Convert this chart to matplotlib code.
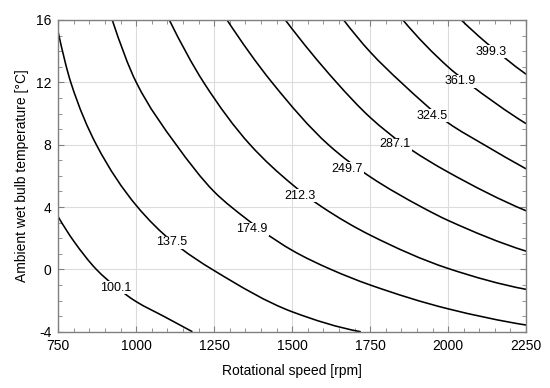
import matplotlib

matplotlib.use("Agg")
import matplotlib.pyplot as plt
from matplotlib.patches import PathPatch
from matplotlib.path import Path
from matplotlib.ticker import MultipleLocator
from matplotlib.transforms import IdentityTransform

plt.rcParams["font.family"] = ["Liberation Sans", "DejaVu Sans"]
plt.rcParams["axes.unicode_minus"] = False

# contour levels and points on each iso-line
# (mostly where the lines cross grid lines and the frame)
LEVELS = ["100.1", "137.5", "174.9", "212.3", "249.7", "287.1", "324.5", "361.9", "399.3"]

SPEED_100 = [750, 800, 872, 933, 1000, 1090, 1180]
TEMP_100 = [3.36, 1.8, 0.0, -1.1, -2.07, -3.03, -4.0]

SPEED_137 = [750, 790, 872, 1000, 1118, 1250, 1500, 1720]
TEMP_137 = [15.18, 12.0, 8.0, 4.1, 1.74, -0.08, -2.72, -4.0]

SPEED_174 = [923, 1000, 1128, 1249, 1305, 1500, 1624, 1750, 2000, 2250]
TEMP_174 = [16, 12.0, 8.0, 5.0, 4.0, 1.22, 0.0, -1.0, -2.53, -3.57]

SPEED_212 = [1106, 1216, 1365, 1500, 1596, 1750, 2000, 2250]
TEMP_212 = [16, 12.0, 8.0, 5.45, 4.0, 2.2, 0.06, -1.28]

SPEED_249 = [1291, 1435, 1616, 1750, 1915, 2000, 2250]
TEMP_249 = [16, 12.0, 8.0, 5.94, 4.0, 3.14, 1.17]

SPEED_287 = [1478, 1642, 1750, 1858, 2000, 2250]
TEMP_287 = [16, 12.0, 9.75, 8.0, 6.24, 3.76]

SPEED_324 = [1665, 1750, 1849, 2000, 2115, 2250]
TEMP_324 = [16, 13.95, 12.0, 9.4, 8.0, 6.45]

SPEED_361 = [1855, 2000, 2061, 2250]
TEMP_361 = [16, 12.99, 12.0, 9.35]

SPEED_399 = [2042, 2116, 2250]
TEMP_399 = [16, 14.65, 12.52]

# where each contour label sits (text centre)
LABEL_SPEED = [933, 1113, 1369, 1526, 1675, 1829, 1950, 2038, 2137]
LABEL_TEMP = [-1.18, 1.75, 2.57, 4.71, 6.47, 8.02, 9.85, 12.06, 13.96]

X_TICKS = [750, 1000, 1250, 1500, 1750, 2000, 2250]
Y_TICKS = [-4, 0, 4, 8, 12, 16]

CURVES = [
    (SPEED_100, TEMP_100),
    (SPEED_137, TEMP_137),
    (SPEED_174, TEMP_174),
    (SPEED_212, TEMP_212),
    (SPEED_249, TEMP_249),
    (SPEED_287, TEMP_287),
    (SPEED_324, TEMP_324),
    (SPEED_361, TEMP_361),
    (SPEED_399, TEMP_399),
]


def _tangents(xs, ys):
    """Fritsch-Carlson slopes so the drawn curve stays smooth and monotone."""
    h = [xs[i + 1] - xs[i] for i in range(len(xs) - 1)]
    d = [(ys[i + 1] - ys[i]) / h[i] for i in range(len(h))]
    if len(d) == 1:
        return [d[0], d[0]]
    m = [0.0] * len(xs)
    for k in range(1, len(xs) - 1):
        if d[k - 1] * d[k] <= 0:
            m[k] = 0.0
        else:
            w1 = 2 * h[k] + h[k - 1]
            w2 = h[k] + 2 * h[k - 1]
            m[k] = (w1 + w2) / (w1 / d[k - 1] + w2 / d[k])

    def end(h0, h1, d0, d1):
        s = ((2 * h0 + h1) * d0 - h0 * d1) / (h0 + h1)
        if s * d0 <= 0:
            return 0.0
        if d0 * d1 <= 0 and abs(s) > 3 * abs(d0):
            return 3 * d0
        return s

    m[0] = end(h[0], h[1], d[0], d[1])
    m[-1] = end(h[-1], h[-2], d[-1], d[-2])
    return m


def smooth_path(xs, ys):
    m = _tangents(xs, ys)
    verts = [(xs[0], ys[0])]
    codes = [Path.MOVETO]
    for i in range(len(xs) - 1):
        h = (xs[i + 1] - xs[i]) / 3
        verts += [(xs[i] + h, ys[i] + m[i] * h),
                  (xs[i + 1] - h, ys[i + 1] - m[i + 1] * h),
                  (xs[i + 1], ys[i + 1])]
        codes += [Path.CURVE4] * 3
    return Path(verts, codes)


fig = plt.figure(figsize=(5.5, 3.88), dpi=100)
ax = fig.add_axes([0.106, 0.145, 0.8505, 0.8035])

curves = []
for speed, temp in CURVES:
    patch = PathPatch(smooth_path(speed, temp), fill=False, edgecolor="black",
                      lw=1.15, zorder=2)
    ax.add_patch(patch)
    curves.append(patch)

texts = []
for level, sx, ty in zip(LEVELS, LABEL_SPEED, LABEL_TEMP):
    texts.append(ax.text(sx, ty, level, ha="center", va="center", fontsize=9, zorder=3))

ax.set_xlim(750, 2250)
ax.set_ylim(-4, 16)
ax.set_xticks(X_TICKS)
ax.set_yticks(Y_TICKS)
ax.xaxis.set_minor_locator(MultipleLocator(50))
ax.yaxis.set_minor_locator(MultipleLocator(1))
ax.grid(True, which="major", color="#dcdcdc", lw=0.8)
ax.set_axisbelow(True)
ax.tick_params(which="both", direction="in", top=True, right=True,
               color="#808080", labelsize=10, pad=5)
ax.tick_params(which="major", length=4)
ax.tick_params(which="minor", length=3)
for spine in ax.spines.values():
    spine.set_color("#808080")
    spine.set_linewidth(1.0)

ax.set_xlabel("Rotational speed [rpm]", fontsize=10, labelpad=8)
ax.set_ylabel("Ambient wet bulb temperature [°C]", fontsize=10, labelpad=5)

# cut the curves where the labels sit: axes box with holes at the labels
fig.canvas.draw()
renderer = fig.canvas.get_renderer()
bb = ax.bbox
verts = [(bb.x0, bb.y0), (bb.x1, bb.y0), (bb.x1, bb.y1), (bb.x0, bb.y1), (bb.x0, bb.y0)]
codes = [Path.MOVETO, Path.LINETO, Path.LINETO, Path.LINETO, Path.CLOSEPOLY]
for t in texts:
    e = t.get_window_extent(renderer)
    x0, x1 = e.x0 - 1.5, e.x1 + 1.5
    y0, y1 = e.y0 - 0.5, e.y1 + 0.5
    verts += [(x0, y0), (x0, y1), (x1, y1), (x1, y0), (x0, y0)]
    codes += [Path.MOVETO, Path.LINETO, Path.LINETO, Path.LINETO, Path.CLOSEPOLY]
clip = Path(verts, codes)
for patch in curves:
    patch.set_clip_path(clip, IdentityTransform())

fig.savefig("out.png", dpi=100)
